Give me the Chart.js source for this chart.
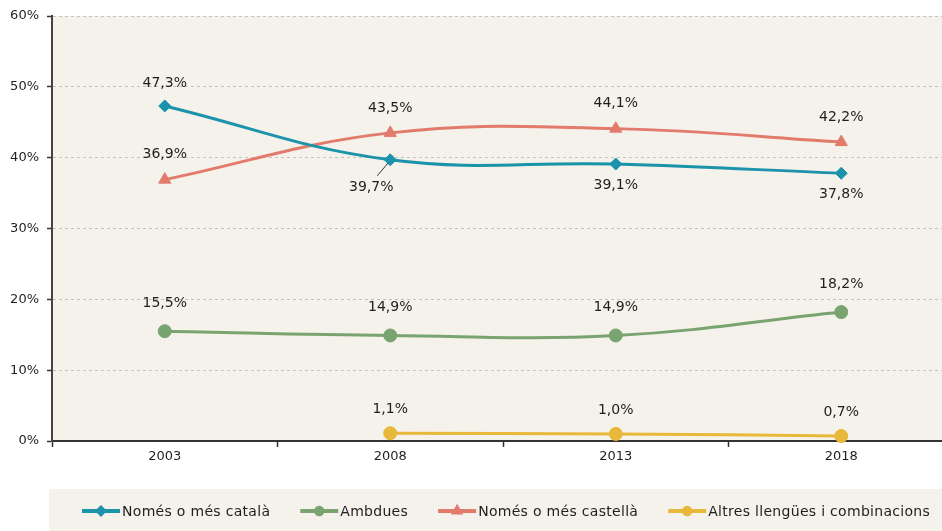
<!DOCTYPE html>
<html>
<head>
<meta charset="utf-8">
<script src="https://cdn.jsdelivr.net/npm/chart.js@4.4.0/dist/chart.umd.min.js"></script>
<style>
  html, body { margin: 0; padding: 0; overflow: hidden; background: #fff; }
  #wrap { width: 962px; height: 531px; }
</style>
</head>
<body>
<div id="wrap"><canvas id="langCtx"></canvas></div>
<script>
// data
const years = ['2003', '2008', '2013', '2018'];
const catala = [47.3, 39.7, 39.1, 37.8];
const ambdues = [15.5, 14.9, 14.9, 18.2];
const castella = [36.9, 43.5, 44.1, 42.2];
const altres = [null, 1.1, 1.0, 0.7];
const seriesNames = ['Només o més català', 'Ambdues', 'Només o més castellà', 'Altres llengües i combinacions'];
const yTicks = [0, 10, 20, 30, 40, 50, 60];

// where each value label sits relative to its point
const catalaPlace = ['above', 'leader', 'below', 'below'];
const ambduesPlace = ['above', 'above', 'above', 'above'];
const castellaPlace = ['above', 'above', 'above', 'above'];
const altresPlace = ['above', 'above', 'above', 'above'];

const plotBg = '#F5F1EB';
const textColor = '#1f1f1f';

function fmt(v) {
    return v.toFixed(1).replace('.', ',') + '%';
}

function makeSeries(label, data, color, pointStyle, radius, place, gap) {
    return {
        label: label,
        data: data,
        borderColor: color,
        backgroundColor: color,
        borderWidth: 3,
        pointStyle: pointStyle,
        pointRadius: radius,
        pointBorderWidth: 1,
        pointBackgroundColor: color,
        pointBorderColor: color,
        tension: 0.4,
        clip: false,
        labelPlace: place,
        labelGap: gap
    };
}

const chartBackground = {
    id: 'chartBackground',
    beforeDraw(chart) {
        const { ctx, chartArea } = chart;
        ctx.save();
        ctx.fillStyle = plotBg;
        ctx.fillRect(chartArea.left, chartArea.top, chartArea.right - chartArea.left, chartArea.bottom - chartArea.top);
        ctx.restore();
    }
};

const valueLabels = {
    id: 'valueLabels',
    afterDatasetsDraw(chart) {
        const ctx = chart.ctx;
        ctx.save();
        ctx.font = '14px "DejaVu Sans"';
        ctx.fillStyle = textColor;
        ctx.textAlign = 'center';
        ctx.textBaseline = 'middle';
        chart.data.datasets.forEach((ds, i) => {
            chart.getDatasetMeta(i).data.forEach((pt, j) => {
                const v = ds.data[j];
                if (v == null) return;
                const place = ds.labelPlace[j];
                let x = pt.x, y = pt.y;
                if (place === 'above') {
                    y -= ds.labelGap;
                } else if (place === 'below') {
                    y += 21;
                } else if (place === 'leader') {
                    // small pointer line like the original
                    ctx.strokeStyle = '#333';
                    ctx.lineWidth = 1;
                    ctx.beginPath();
                    ctx.moveTo(x - 13, y + 16);
                    ctx.lineTo(x - 2, y + 3);
                    ctx.stroke();
                    x -= 19;
                    y += 28;
                }
                ctx.fillText(fmt(v), x, y);
            });
        });
        ctx.restore();
    }
};

const bottomLegend = {
    id: 'bottomLegend',
    afterDraw(chart) {
        const { ctx, chartArea } = chart;
        const top = chartArea.bottom + 48;
        ctx.save();
        ctx.fillStyle = plotBg;
        ctx.fillRect(chartArea.left - 3, top, chart.width, chart.height - top);

        const cy = top + 22;
        let x = chartArea.left + 30;
        ctx.font = '14px "DejaVu Sans"';
        ctx.letterSpacing = '0.3px';
        ctx.textBaseline = 'middle';
        ctx.textAlign = 'left';
        chart.data.datasets.forEach(ds => {
            ctx.strokeStyle = ds.borderColor;
            ctx.lineWidth = 4;
            ctx.beginPath();
            ctx.moveTo(x, cy);
            ctx.lineTo(x + 38, cy);
            ctx.stroke();
            ctx.fillStyle = ds.borderColor;
            Chart.helpers.drawPoint(ctx, {
                pointStyle: ds.pointStyle, radius: 3.2, rotation: 0, borderWidth: 1
            }, x + 19, cy);
            ctx.fillStyle = textColor;
            ctx.fillText(ds.label, x + 40, cy + 1);
            x += 40 + ctx.measureText(ds.label).width + 30;
        });
        ctx.restore();
    }
};

const chart = new Chart(document.getElementById('langCtx'), {
    type: 'line',
    data: {
        labels: years,
        datasets: [
            makeSeries(seriesNames[0], catala, '#1B93AA', 'rectRot', 6, catalaPlace, 23),
            makeSeries(seriesNames[1], ambdues, '#7AA46F', 'circle', 6.5, ambduesPlace, 28),
            makeSeries(seriesNames[2], castella, '#E27B6B', 'triangle', 7, castellaPlace, 25),
            makeSeries(seriesNames[3], altres, '#E8B83B', 'circle', 6.5, altresPlace, 24)
        ]
    },
    options: {
        responsive: true,
        maintainAspectRatio: false,
        animation: false,
        layout: { padding: { top: 16, bottom: 60, right: 0, left: 0 } },
        plugins: {
            legend: { display: false },
            tooltip: { enabled: false }
        },
        scales: {
            x: {
                offset: true,
                grid: {
                    offset: true,
                    drawOnChartArea: false,
                    tickLength: 6,
                    tickColor: '#333',
                    tickWidth: 1.5
                },
                border: { color: '#333', width: 2 },
                ticks: {
                    color: textColor,
                    font: { family: 'DejaVu Sans', size: 13 },
                    padding: 2
                },
                afterFit(scale) { scale.height = 30; }
            },
            y: {
                min: 0,
                max: 60,
                afterBuildTicks(scale) {
                    scale.ticks = yTicks.map(v => ({ value: v }));
                },
                grid: {
                    color: '#C4C2BE',
                    lineWidth: 1,
                    tickLength: 5,
                    tickColor: '#333',
                    tickWidth: 1.5
                },
                border: { color: '#444', width: 2, dash: [3, 3] },
                ticks: {
                    color: textColor,
                    font: { family: 'DejaVu Sans', size: 13 },
                    padding: 8,
                    callback: function(value) {
                        return value + '%';
                    }
                },
                afterFit(scale) { scale.width = 52; }
            }
        }
    },
    plugins: [chartBackground, valueLabels, bottomLegend]
});
</script>
</body>
</html>
